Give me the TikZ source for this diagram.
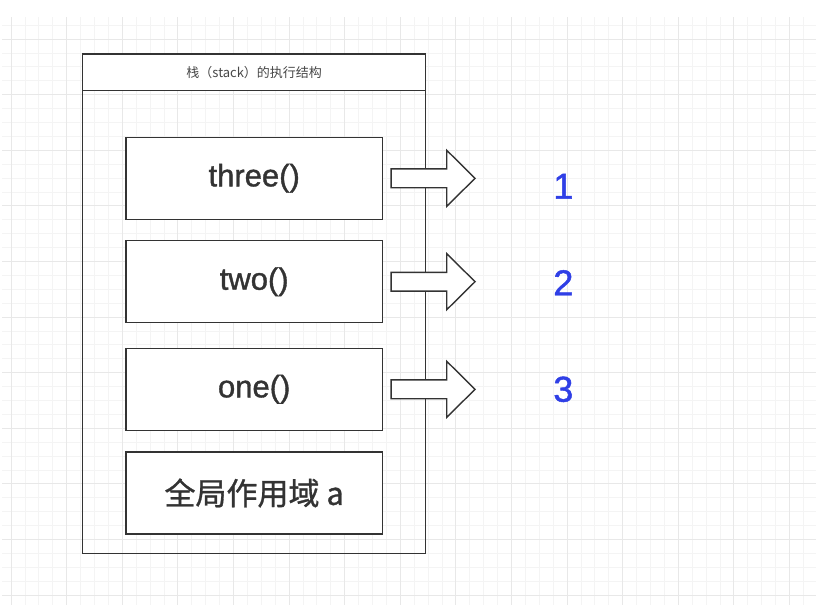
\documentclass[tikz,border=0pt]{standalone}
\usepackage{fontspec}
\setmainfont{Liberation Sans}
\newfontfamily\labelfont{Liberation Sans}[FakeBold=1.2]
\newfontfamily\cjk{Noto Sans CJK SC}
\newfontfamily\cjklabel{Noto Sans CJK SC}[FakeBold=1]
\usetikzlibrary{positioning}

\definecolor{ink}{HTML}{333333}
\definecolor{numblue}{HTML}{2F3FE6}
\definecolor{gridminor}{HTML}{F4F4F4}
\definecolor{gridmajor}{HTML}{E8E8E8}

\begin{document}
\begin{tikzpicture}[x=1pt,y=-1pt,
    frame/.style={draw=ink,line width=1.4pt,minimum width=343pt,minimum height=499.3pt,inner sep=0pt,outer sep=0pt},
    title/.style={draw=ink,fill=white,line width=1.4pt,minimum width=343pt,minimum height=36.7pt,outer sep=0pt,
        font=\cjk\fontsize{13}{13}\selectfont,text=ink!90},
    call/.style={draw=ink,fill=white,line width=1.4pt,minimum width=256.3pt,minimum height=82pt,inner sep=0pt,outer sep=0pt,
        font=\labelfont\fontsize{31}{31}\selectfont,text=ink},
    num/.style={text=numblue,font=\labelfont\fontsize{36}{36}\selectfont},
    bigarrow/.style={draw=ink,fill=white,line width=1.4pt,line join=miter}]

	\useasboundingbox (0,0) rectangle (836,611);

	% background grid
	\foreach \k in {0,...,57}
		\draw[gridminor,line width=0.8pt] (11+13.9*\k,17) -- (11+13.9*\k,605);
	\foreach \k in {-1,...,40}
		\draw[gridminor,line width=0.8pt] (2,39+13.9*\k) -- (816,39+13.9*\k);
	\foreach \k in {0,4,...,56}
		\draw[gridmajor,line width=0.8pt] (11+13.9*\k,17) -- (11+13.9*\k,605);
	\foreach \k in {0,4,...,40}
		\draw[gridmajor,line width=0.8pt] (2,39+13.9*\k) -- (816,39+13.9*\k);

	% the stack
	\node[frame] (stack) at (254.2,303.7) {};
	\node[title, anchor=north] (head) at (stack.north) {栈（stack）的执行结构};

	\node[call] (three) at (254.2,178.3) {three()};
	\node[call] (two) [below=21.4pt of three] {two()};
	\node[call] (one) [below=25.6pt of two] {one()};
	\node[call, font=\cjklabel\fontsize{31}{31}\selectfont] (global) [below=21.7pt of one] {全局作用域 a};

	% pop order
	\foreach \f/\n/\dy in {three/1/-8, two/2/-1, one/3/0} {
		\draw[bigarrow] ([xshift=8.7pt]\f.east) ++(0,-9.4) -- ++(55.7,0) -- ++(0,-18.6) -- ++(28.3,28)
			-- ++(-28.3,28) -- ++(0,-18.6) -- ++(-55.7,0) -- cycle;
		\node[num] (n\n) at ([xshift=181pt,yshift=\dy pt]\f.east) {\n};
	}

\end{tikzpicture}
\end{document}
